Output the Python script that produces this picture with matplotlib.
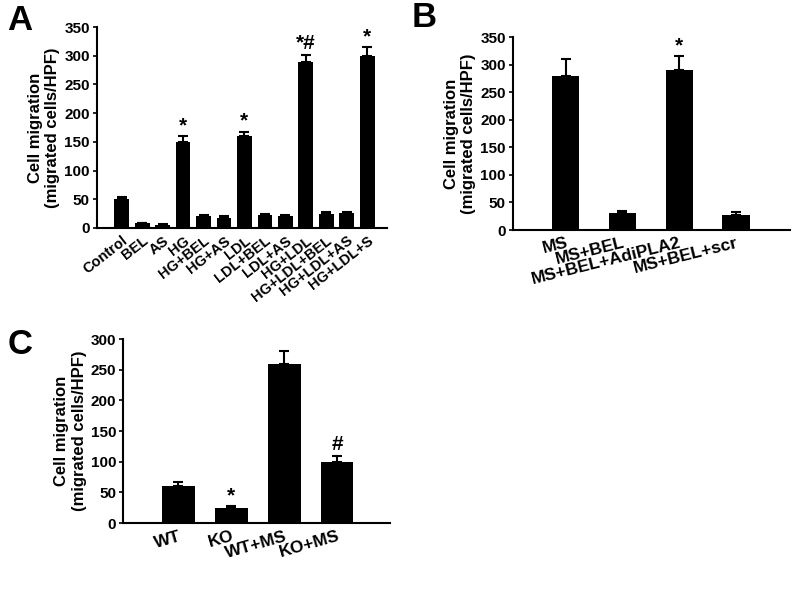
import matplotlib
matplotlib.use("Agg")
import matplotlib.pyplot as plt
import numpy as np

plt.rcParams['font.family'] = ['Liberation Sans', 'DejaVu Sans']
plt.rcParams['font.weight'] = 'bold'

# Panel A
a_labels = ["Control", "BEL", "AS", "HG", "HG+BEL", "HG+AS", "LDL", "LDL+BEL",
            "LDL+AS", "HG+LDL", "HG+LDL+BEL", "HG+LDL+AS", "HG+LDL+S"]
a_values = [50, 8, 5, 150, 20, 18, 160, 22, 20, 290, 25, 26, 300]
a_errors = [4, 1, 1, 10, 3, 2, 8, 2, 3, 12, 2, 2, 15]
a_marks = ["", "", "", "*", "", "", "*", "", "", "*#", "", "", "*"]

# Panel B
b_labels = ["MS", "MS+BEL", "MS+BEL+AdiPLA2", "MS+BEL+scr"]
b_values = [280, 30, 290, 27]
b_errors = [30, 5, 25, 5]
b_marks = ["", "", "*", ""]

# Panel C
c_labels = ["WT", "KO", "WT+MS", "KO+MS"]
c_values = [60, 25, 260, 100]
c_errors = [7, 2, 20, 10]
c_marks = ["", "*", "", "#"]

fig = plt.figure(figsize=(8, 5.89), dpi=100)

ylabel = "Cell migration\n(migrated cells/HPF)"


def panel(rect, labels, values, errors, marks, width, xlim, ylim, yticks, rot, fs_lab):
    ax = fig.add_axes(rect)
    x = np.arange(len(values))
    ax.bar(x, values, width=width, color='black', zorder=2)
    ax.errorbar(x, values, yerr=[np.zeros(len(errors)), errors], fmt='none',
                ecolor='black', elinewidth=1.5, capsize=3.5, capthick=1.5, zorder=1)
    for xi, v, e, m in zip(x, values, errors, marks):
        if m:
            ax.text(xi, v + e + 2, m, ha='center', va='bottom', fontsize=15,
                    fontweight='bold')
    ax.set_xlim(*xlim)
    ax.set_ylim(*ylim)
    ax.set_yticks(yticks)
    ax.set_yticklabels([str(t) for t in yticks], fontsize=11, fontweight='bold')
    ax.set_xticks(x)
    ax.set_xticklabels(labels, rotation=rot, ha='right', rotation_mode='anchor',
                       fontsize=fs_lab, fontweight='bold')
    ax.tick_params(axis='x', length=0, pad=4)
    ax.tick_params(axis='y', length=3, width=1.2, direction='out', pad=2)
    for s in ['top', 'right']:
        ax.spines[s].set_visible(False)
    for s in ['left', 'bottom']:
        ax.spines[s].set_linewidth(1.5)
    ax.set_ylabel(ylabel, fontsize=12, fontweight='bold', labelpad=3)
    return ax


axA = panel([0.121, 0.613, 0.363, 0.341], a_labels, a_values, a_errors, a_marks,
            0.72, (-1.22, 12.98), (0, 350), [0, 50, 100, 150, 200, 250, 300, 350], 38, 10.5)
axB = panel([0.641, 0.6095, 0.3465, 0.3275], b_labels, b_values, b_errors, b_marks,
            0.48, (-0.93, 3.95), (0, 350), [0, 50, 100, 150, 200, 250, 300, 350], 14, 12.5)
axC = panel([0.154, 0.112, 0.3335, 0.3124], c_labels, c_values, c_errors, c_marks,
            0.62, (-1.04, 4.0), (0, 300), [0, 50, 100, 150, 200, 250, 300], 16, 12.5)

fig.text(0.025, 0.965, "A", fontsize=25, fontweight='bold', va='center', ha='center')
fig.text(0.53, 0.97, "B", fontsize=25, fontweight='bold', va='center', ha='center')
fig.text(0.025, 0.415, "C", fontsize=25, fontweight='bold', va='center', ha='center')

fig.savefig("out.png", dpi=100)
